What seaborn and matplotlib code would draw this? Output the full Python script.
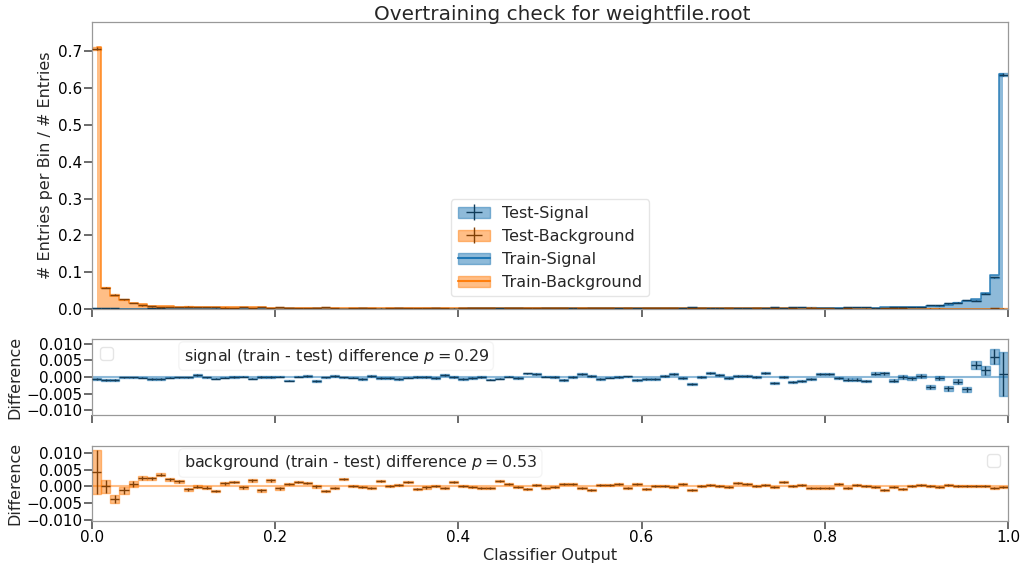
import numpy as np
import matplotlib
matplotlib.use("Agg")
import matplotlib.pyplot as plt
import seaborn as sns
from matplotlib.patches import Patch, Rectangle

# ---------------- data ----------------
n_bins = 100
x_min, x_max = 0.0, 1.0

# normalised train histograms (# entries per bin / # entries)
signal_train = [
    0.0010, 0.0009, 0.0008, 0.0008, 0.0007, 0.0007, 0.0008, 0.0007, 0.0007, 0.0007,
    0.0007, 0.0008, 0.0007, 0.0007, 0.0007, 0.0008, 0.0007, 0.0008, 0.0008, 0.0008,
    0.0008, 0.0008, 0.0008, 0.0009, 0.0008, 0.0009, 0.0009, 0.0009, 0.0009, 0.0010,
    0.0010, 0.0010, 0.0010, 0.0011, 0.0011, 0.0011, 0.0012, 0.0012, 0.0012, 0.0013,
    0.0013, 0.0014, 0.0014, 0.0015, 0.0015, 0.0016, 0.0016, 0.0017, 0.0017, 0.0018,
    0.0018, 0.0019, 0.0019, 0.0020, 0.0020, 0.0021, 0.0021, 0.0022, 0.0022, 0.0023,
    0.0023, 0.0024, 0.0024, 0.0025, 0.0025, 0.0026, 0.0026, 0.0027, 0.0027, 0.0028,
    0.0028, 0.0029, 0.0029, 0.0030, 0.0030, 0.0031, 0.0031, 0.0032, 0.0032, 0.0033,
    0.0033, 0.0034, 0.0035, 0.0036, 0.0038, 0.0040, 0.0043, 0.0046, 0.0050, 0.0055,
    0.0065, 0.0080, 0.0095, 0.0120, 0.0160, 0.0210, 0.0260, 0.0440, 0.0920, 0.6380,
]
background_train = [
    0.7120, 0.0575, 0.0355, 0.0250, 0.0165, 0.0125, 0.0095, 0.0078, 0.0068, 0.0062,
    0.0058, 0.0055, 0.0052, 0.0050, 0.0048, 0.0046, 0.0044, 0.0042, 0.0041, 0.0040,
    0.0038, 0.0037, 0.0036, 0.0035, 0.0034, 0.0033, 0.0032, 0.0031, 0.0030, 0.0030,
    0.0029, 0.0028, 0.0028, 0.0027, 0.0027, 0.0026, 0.0026, 0.0025, 0.0025, 0.0024,
    0.0024, 0.0023, 0.0023, 0.0022, 0.0022, 0.0022, 0.0021, 0.0021, 0.0021, 0.0020,
    0.0020, 0.0020, 0.0019, 0.0019, 0.0019, 0.0018, 0.0018, 0.0018, 0.0018, 0.0017,
    0.0017, 0.0017, 0.0017, 0.0016, 0.0016, 0.0016, 0.0016, 0.0016, 0.0015, 0.0015,
    0.0015, 0.0015, 0.0015, 0.0014, 0.0014, 0.0014, 0.0014, 0.0014, 0.0014, 0.0013,
    0.0013, 0.0013, 0.0013, 0.0013, 0.0013, 0.0012, 0.0012, 0.0012, 0.0012, 0.0012,
    0.0012, 0.0012, 0.0011, 0.0011, 0.0011, 0.0011, 0.0011, 0.0011, 0.0011, 0.0010,
]

# (train - test) differences
signal_diff = [
    -0.0006, -0.0009, -0.0009, -0.0001, -0.0001, -0.0002, -0.0007, -0.0007, -0.0002, -0.0001,
    -0.0001, 0.0006, -0.0001, -0.0005, -0.0002, 0.0000, 0.0001, -0.0005, 0.0000, 0.0000,
    0.0001, -0.0011, 0.0001, 0.0004, -0.0013, -0.0001, 0.0003, -0.0001, -0.0002, -0.0006,
    0.0003, -0.0003, -0.0003, -0.0006, -0.0002, 0.0000, 0.0000, -0.0004, 0.0006, 0.0000,
    -0.0006, -0.0003, 0.0000, -0.0008, -0.0005, 0.0001, -0.0004, 0.0011, 0.0010, 0.0001,
    0.0000, -0.0009, 0.0000, 0.0010, 0.0003, -0.0006, -0.0002, 0.0000, 0.0002, -0.0009,
    -0.0005, -0.0006, 0.0004, 0.0009, -0.0003, -0.0020, 0.0000, 0.0012, 0.0005, -0.0003,
    0.0003, 0.0003, 0.0000, 0.0013, -0.0017, 0.0001, -0.0015, -0.0012, -0.0007, 0.0008,
    0.0010, -0.0003, -0.0008, -0.0008, -0.0012, 0.0010, 0.0012, -0.0011, 0.0000, -0.0004,
    0.0004, -0.0029, -0.0002, -0.0034, -0.0014, -0.0037, 0.0037, 0.0020, 0.0062, 0.0008,
]
signal_diff_err = [
    0.0003, 0.0003, 0.0003, 0.00025, 0.00025, 0.00025, 0.00025, 0.00025, 0.00025, 0.00025,
    0.00025, 0.00025, 0.00025, 0.00025, 0.00025, 0.00025, 0.00025, 0.00025, 0.00025, 0.00025,
    0.00025, 0.00025, 0.00025, 0.00025, 0.00025, 0.00025, 0.00025, 0.00025, 0.00025, 0.00025,
    0.00025, 0.00025, 0.00025, 0.00025, 0.00025, 0.00025, 0.00025, 0.00025, 0.00025, 0.00025,
    0.00025, 0.00025, 0.00025, 0.00025, 0.00025, 0.00025, 0.00025, 0.00025, 0.00025, 0.00025,
    0.00025, 0.00025, 0.00025, 0.00025, 0.00025, 0.00025, 0.00025, 0.00025, 0.00025, 0.00025,
    0.0003, 0.0003, 0.0003, 0.0003, 0.0003, 0.0003, 0.0003, 0.0003, 0.0003, 0.0003,
    0.0003, 0.0003, 0.0003, 0.0003, 0.0003, 0.0003, 0.0003, 0.0003, 0.0003, 0.0003,
    0.00035, 0.00035, 0.00035, 0.0004, 0.0004, 0.0004, 0.00045, 0.00045, 0.0005, 0.0005,
    0.0006, 0.0006, 0.0006, 0.0007, 0.0008, 0.0008, 0.0012, 0.0013, 0.0022, 0.0067,
]
background_diff = [
    0.0043, 0.0000, -0.0039, -0.0012, 0.0007, 0.0026, 0.0024, 0.0035, 0.0021, 0.0016,
    -0.0009, -0.0001, -0.0004, -0.0014, 0.0009, 0.0013, -0.0003, 0.0018, -0.0012, 0.0018,
    -0.0006, 0.0008, 0.0013, 0.0011, 0.0000, -0.0014, -0.0005, 0.0023, 0.0001, -0.0002,
    -0.0004, 0.0017, 0.0001, 0.0005, 0.0013, -0.0008, -0.0003, 0.0001, -0.0004, 0.0013,
    0.0001, -0.0003, -0.0004, -0.0005, 0.0016, 0.0007, -0.0001, -0.0008, 0.0004, -0.0004,
    -0.0003, 0.0006, 0.0006, -0.0004, -0.0012, 0.0003, 0.0004, 0.0007, -0.0005, 0.0008,
    -0.0007, 0.0001, 0.0002, -0.0002, 0.0008, -0.0011, 0.0000, 0.0004, 0.0002, -0.0001,
    0.0009, 0.0008, 0.0000, 0.0005, -0.0002, 0.0012, 0.0000, 0.0004, -0.0004, -0.0004,
    -0.0005, 0.0008, -0.0004, 0.0005, 0.0001, -0.0001, -0.0012, -0.0002, -0.0009, 0.0002,
    0.0004, 0.0000, -0.0002, 0.0003, 0.0002, 0.0001, 0.0000, 0.0002, -0.0004, -0.0003,
]
background_diff_err = [
    0.0066, 0.0020, 0.0012, 0.0010, 0.0008, 0.0006, 0.0005, 0.0005, 0.00045, 0.00045,
    0.0004, 0.0004, 0.0004, 0.0004, 0.0004, 0.0004, 0.0004, 0.0004, 0.0004, 0.0004,
    0.00035, 0.00035, 0.00035, 0.00035, 0.00035, 0.00035, 0.00035, 0.00035, 0.00035, 0.00035,
    0.00035, 0.00035, 0.00035, 0.00035, 0.00035, 0.00035, 0.00035, 0.00035, 0.00035, 0.00035,
    0.0003, 0.0003, 0.0003, 0.0003, 0.0003, 0.0003, 0.0003, 0.0003, 0.0003, 0.0003,
    0.0003, 0.0003, 0.0003, 0.0003, 0.0003, 0.0003, 0.0003, 0.0003, 0.0003, 0.0003,
    0.0003, 0.0003, 0.0003, 0.0003, 0.0003, 0.0003, 0.0003, 0.0003, 0.0003, 0.0003,
    0.0003, 0.0003, 0.0003, 0.0003, 0.0003, 0.0003, 0.0003, 0.0003, 0.0003, 0.0003,
    0.0003, 0.0003, 0.0003, 0.0003, 0.0003, 0.0003, 0.0003, 0.0003, 0.0003, 0.0003,
    0.0003, 0.0003, 0.0003, 0.0003, 0.0003, 0.0003, 0.0003, 0.0003, 0.0003, 0.0003,
]
# statistical error of the normalised test histograms
signal_test_err = [
    0.0002, 0.0002, 0.0002, 0.0002, 0.0002, 0.0002, 0.0002, 0.0002, 0.0002, 0.0002,
    0.0002, 0.0002, 0.0002, 0.0002, 0.0002, 0.0002, 0.0002, 0.0002, 0.0002, 0.0002,
    0.0002, 0.0002, 0.0002, 0.0002, 0.0002, 0.0002, 0.0002, 0.0002, 0.0002, 0.0002,
    0.0002, 0.0002, 0.0002, 0.0002, 0.0002, 0.0002, 0.0002, 0.0002, 0.0002, 0.0002,
    0.0002, 0.0002, 0.0002, 0.0002, 0.0002, 0.0002, 0.0002, 0.0002, 0.0002, 0.0002,
    0.0002, 0.0002, 0.0002, 0.0002, 0.0002, 0.0002, 0.0002, 0.0002, 0.0002, 0.0002,
    0.0002, 0.0002, 0.0002, 0.0002, 0.0002, 0.0002, 0.0002, 0.0002, 0.0002, 0.0002,
    0.0002, 0.0002, 0.0002, 0.0002, 0.0002, 0.0002, 0.0002, 0.0002, 0.0002, 0.0002,
    0.0002, 0.0002, 0.0002, 0.0003, 0.0003, 0.0003, 0.0003, 0.0003, 0.0004, 0.0004,
    0.0004, 0.0004, 0.0004, 0.0005, 0.0006, 0.0006, 0.0009, 0.0010, 0.0016, 0.0047,
]
background_test_err = [
    0.0047, 0.0014, 0.0009, 0.0007, 0.0006, 0.0004, 0.0004, 0.0004, 0.0003, 0.0003,
    0.0003, 0.0003, 0.0003, 0.0003, 0.0003, 0.0003, 0.0003, 0.0003, 0.0003, 0.0003,
    0.0002, 0.0002, 0.0002, 0.0002, 0.0002, 0.0002, 0.0002, 0.0002, 0.0002, 0.0002,
    0.0002, 0.0002, 0.0002, 0.0002, 0.0002, 0.0002, 0.0002, 0.0002, 0.0002, 0.0002,
    0.0002, 0.0002, 0.0002, 0.0002, 0.0002, 0.0002, 0.0002, 0.0002, 0.0002, 0.0002,
    0.0002, 0.0002, 0.0002, 0.0002, 0.0002, 0.0002, 0.0002, 0.0002, 0.0002, 0.0002,
    0.0002, 0.0002, 0.0002, 0.0002, 0.0002, 0.0002, 0.0002, 0.0002, 0.0002, 0.0002,
    0.0002, 0.0002, 0.0002, 0.0002, 0.0002, 0.0002, 0.0002, 0.0002, 0.0002, 0.0002,
    0.0002, 0.0002, 0.0002, 0.0002, 0.0002, 0.0002, 0.0002, 0.0002, 0.0002, 0.0002,
    0.0002, 0.0002, 0.0002, 0.0002, 0.0002, 0.0002, 0.0002, 0.0002, 0.0002, 0.0002,
]

p_signal = 0.29
p_background = 0.53
title = "Overtraining check for weightfile.root"
x_ticks = [0.0, 0.2, 0.4, 0.6, 0.8, 1.0]
top_yticks = [0.0, 0.1, 0.2, 0.3, 0.4, 0.5, 0.6, 0.7]
diff_yticks = [-0.010, -0.005, 0.000, 0.005, 0.010]

# ---------------- style ----------------
sns.set_theme(style="ticks")
plt.rcParams.update({
    "font.family": ["DejaVu Sans"],
    "font.size": 11.5,
    "axes.edgecolor": "0.6",
    "axes.linewidth": 0.9,
    "xtick.color": "0.35",
    "ytick.color": "0.35",
    "xtick.labelcolor": "black",
    "ytick.labelcolor": "black",
    "xtick.labelsize": 11,
    "ytick.labelsize": 11,
    "xtick.major.pad": 0.8,
    "ytick.major.pad": 0.8,
    "axes.labelsize": 11.5,
    "legend.fontsize": 11.5,
})

SIG = "#1f77b4"
BKG = "#ff7f0e"

edges = np.linspace(x_min, x_max, n_bins + 1)
centers = 0.5 * (edges[1:] + edges[:-1])
half_width = 0.5 * (edges[1:] - edges[:-1])

sig_train = np.array(signal_train)
bkg_train = np.array(background_train)
sig_diff = np.array(signal_diff)
bkg_diff = np.array(background_diff)
sig_test = sig_train - sig_diff
bkg_test = bkg_train - bkg_diff


def dark(c):
    r, g, b = matplotlib.colors.to_rgb(c)
    return (0.5 * r, 0.5 * g, 0.5 * b)


def datapoints(ax, x, y, xerr, yerr, color):
    e = ax.errorbar(x, y, xerr=xerr, yerr=yerr, fmt="none",
                    ecolor=dark(color), elinewidth=1.0, zorder=3)
    for _x, _y, _xe, _ye in zip(x, y, xerr, yerr):
        ax.add_patch(Rectangle((_x - _xe, _y - _ye), 2 * _xe, 2 * _ye,
                               fill=True, color=color, alpha=0.5, lw=1.0,
                               zorder=2))
    return e


def train_hist(ax, x, y, color):
    sns.lineplot(x=x, y=y, ax=ax, color=color, lw=1.2, alpha=0.85,
                 drawstyle="steps-mid", zorder=2)
    ax.fill_between(x, y, 0, step="mid", color=color, alpha=0.5, lw=0,
                    zorder=1)


W, H = 1022, 565
fig = plt.figure(figsize=(W / 100, H / 100), dpi=100)
left, right = 92 / W, 1008 / W


def rect(top_px, bot_px):
    return [left, 1 - bot_px / H, right - left, (bot_px - top_px) / H]


ax = fig.add_axes(rect(22, 309))
ax1 = fig.add_axes(rect(339, 415), sharex=ax)
ax2 = fig.add_axes(rect(446, 521), sharex=ax)

# ---- top panel ----
e_sig = datapoints(ax, centers, sig_test, half_width, np.array(signal_test_err), SIG)
e_bkg = datapoints(ax, centers, bkg_test, half_width, np.array(background_test_err), BKG)
train_hist(ax, centers, sig_train, SIG)
train_hist(ax, centers, bkg_train, BKG)

handles = [
    (Patch(color=SIG, alpha=0.5), e_sig),
    (Patch(color=BKG, alpha=0.5), e_bkg),
    (Patch(color=SIG, alpha=0.5), matplotlib.lines.Line2D([], [], color=SIG, lw=1.5)),
    (Patch(color=BKG, alpha=0.5), matplotlib.lines.Line2D([], [], color=BKG, lw=1.5)),
]
labels = ["Test-Signal", "Test-Background", "Train-Signal", "Train-Background"]
ax.legend(handles, labels, loc="lower center", fancybox=True, framealpha=0.5,
          borderaxespad=0.8)
ax.set_xlim(x_min, x_max)
ax.set_ylim(0, 0.78)
ax.set_yticks(top_yticks)
ax.set_ylabel("# Entries per Bin / # Entries", fontsize=11.5)
ax.tick_params(labelbottom=False)
ax.set_xlabel("")

# ---- difference panels ----
for a, diff, err, color, name, p, loc in [
    (ax1, sig_diff, signal_diff_err, SIG, "signal", p_signal, "upper left"),
    (ax2, bkg_diff, background_diff_err, BKG, "background", p_background, "upper right"),
]:
    datapoints(a, centers, diff, half_width, np.array(err), color)
    a.axhline(0, color=color, alpha=0.5, lw=1.5, zorder=1)
    a.set_yticks(diff_yticks)
    a.set_ylabel("Difference", labelpad=3)
    a.text(0.1, 0.9, name + " (train - test) difference $p={:.2f}$".format(p),
           transform=a.transAxes, va="top", ha="left",
           bbox=dict(boxstyle="round", facecolor="white", edgecolor="#f2f2f2", alpha=0.8))
    a.legend(handles=[], labels=[], loc=loc, fancybox=True, framealpha=0.5)

ax1.set_ylim(-0.0115, 0.0115)
ax2.set_ylim(-0.0104, 0.0121)
ax1.tick_params(labelbottom=False)
ax2.set_xticks(x_ticks)
ax2.set_xlabel("Classifier Output", labelpad=2)

fig.text(562 / W, 1 - 20 / H, title, ha="center", va="baseline", fontsize=14.4)

fig.savefig("out.png", dpi=100)
